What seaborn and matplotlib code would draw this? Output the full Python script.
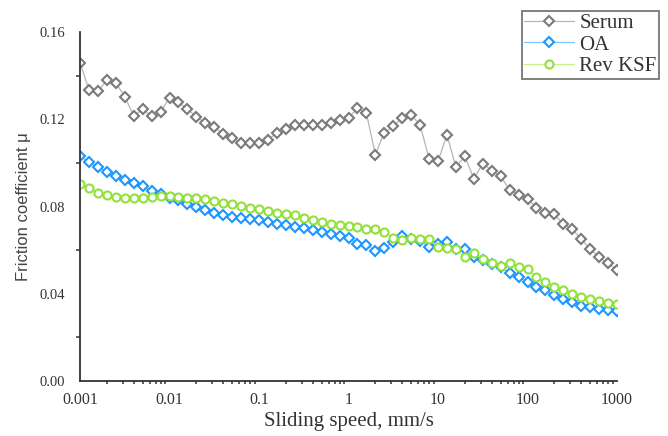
import numpy as np
import pandas as pd
import matplotlib
matplotlib.use("Agg")
import matplotlib.pyplot as plt
import seaborn as sns
from matplotlib.ticker import FixedLocator, NullFormatter, LogLocator

# ---- data ----
speed_exponents = [-3 + i / 10 for i in range(61)]  # 10 points per decade, 0.001 .. 1000
x_tick_values = [0.001, 0.01, 0.1, 1, 10, 100, 1000]
x_tick_labels = ["0.001", "0.01", "0.1", "1", "10", "100", "1000"]
y_tick_values = [0.00, 0.04, 0.08, 0.12, 0.16]
y_tick_labels = ["0.00", "0.04", "0.08", "0.12", "0.16"]

serum = [0.1460, 0.1335, 0.1328, 0.1379, 0.1367, 0.1304, 0.1214, 0.1247, 0.1214, 0.1234,
         0.1297, 0.1278, 0.1247, 0.1211, 0.1183, 0.1164, 0.1133, 0.1113, 0.1091, 0.1091,
         0.1091, 0.1107, 0.1136, 0.1156, 0.1175, 0.1175, 0.1175, 0.1175, 0.1184, 0.1195,
         0.1206, 0.1250, 0.1228, 0.1038, 0.1139, 0.1167, 0.1208, 0.1220, 0.1174, 0.1019,
         0.1007, 0.1129, 0.0981, 0.1030, 0.0928, 0.0997, 0.0965, 0.0939, 0.0876, 0.0855,
         0.0836, 0.0795, 0.0772, 0.0764, 0.0719, 0.0696, 0.0650, 0.0605, 0.0567, 0.0539,
         0.0509]
oa = [0.1030, 0.1004, 0.0982, 0.0959, 0.0942, 0.0923, 0.0907, 0.0892, 0.0873, 0.0856,
      0.0840, 0.0828, 0.0813, 0.0798, 0.0783, 0.0772, 0.0761, 0.0752, 0.0745, 0.0741,
      0.0737, 0.0731, 0.0722, 0.0716, 0.0707, 0.0701, 0.0692, 0.0685, 0.0676, 0.0666,
      0.0655, 0.0630, 0.0624, 0.0597, 0.0612, 0.0635, 0.0665, 0.0650, 0.0643, 0.0615,
      0.0628, 0.0635, 0.0605, 0.0605, 0.0567, 0.0555, 0.0536, 0.0524, 0.0494, 0.0476,
      0.0453, 0.0430, 0.0415, 0.0392, 0.0377, 0.0362, 0.0346, 0.0339, 0.0331, 0.0324,
      0.0321]
rev_ksf = [0.0901, 0.0886, 0.0863, 0.0852, 0.0843, 0.0840, 0.0840, 0.0840, 0.0843, 0.0846,
           0.0846, 0.0843, 0.0840, 0.0837, 0.0833, 0.0825, 0.0817, 0.0810, 0.0802, 0.0795,
           0.0787, 0.0780, 0.0772, 0.0764, 0.0760, 0.0749, 0.0737, 0.0731, 0.0722, 0.0716,
           0.0710, 0.0707, 0.0698, 0.0695, 0.0682, 0.0655, 0.0646, 0.0656, 0.0650, 0.0650,
           0.0613, 0.0610, 0.0607, 0.0567, 0.0588, 0.0560, 0.0540, 0.0529, 0.0539, 0.0524,
           0.0514, 0.0476, 0.0453, 0.0433, 0.0415, 0.0400, 0.0384, 0.0374, 0.0366, 0.0359,
           0.0351]

speed = [10 ** e for e in speed_exponents]

sns.set_style("white")
plt.rcParams["font.family"] = ["Liberation Serif", "DejaVu Serif"]

fig = plt.figure(figsize=(6.68, 4.36), dpi=100)
ax = fig.add_axes([80 / 668, 55 / 436, (617 - 80) / 668, (381 - 32) / 436])

series = [
    ("Serum", serum, "D", "#7a7a7a", "#b5b5b5", 5.2),
    ("OA", oa, "D", "#1e96ff", "#7cc4ff", 5.2),
    ("Rev KSF", rev_ksf, "o", "#92e03a", "#c4f08a", 5.8),
]
for name, vals, mk, edge, linec, ms in series:
    df = pd.DataFrame({"speed": speed, "mu": vals})
    sns.lineplot(data=df, x="speed", y="mu", ax=ax, estimator=None, sort=False,
                 color=linec, linewidth=0.9, marker=mk, markersize=ms,
                 markerfacecolor="white", markeredgecolor=edge, markeredgewidth=1.5,
                 label=name)

ax.set_xscale("log")
ax.set_xlim(0.001, 1000)
ax.set_ylim(0, 0.16)

ax.xaxis.set_major_locator(FixedLocator(x_tick_values))
ax.set_xticklabels(x_tick_labels)
ax.xaxis.set_minor_locator(LogLocator(base=10, subs=np.arange(2, 10)))
ax.xaxis.set_minor_formatter(NullFormatter())
ax.yaxis.set_major_locator(FixedLocator(y_tick_values))
ax.set_yticklabels(y_tick_labels)
ax.yaxis.set_minor_locator(FixedLocator([0.02, 0.06, 0.10, 0.14]))

for s in ["top", "right"]:
    ax.spines[s].set_visible(False)
for s in ["left", "bottom"]:
    ax.spines[s].set_color("#333333")
    ax.spines[s].set_linewidth(1.3)

ax.tick_params(axis="x", which="major", direction="out", length=5, width=1.1,
               color="#333333", labelsize=11.5, labelcolor="#333333", pad=3)
ax.tick_params(axis="x", which="minor", direction="out", length=2.2, width=1.1,
               color="#333333", bottom=True)
ax.tick_params(axis="y", which="major", direction="out", length=6.5, width=1.1,
               color="#333333", labelsize=10.5, labelcolor="#333333", pad=4)
ax.tick_params(axis="y", which="minor", direction="out", length=3, width=1.1,
               color="#333333", left=True)

ax.set_xlabel("Sliding speed, mm/s", fontsize=15, color="#333333", labelpad=3)
ax.set_ylabel("Friction coefficient \u03bc", fontsize=12, color="#444444",
              family=["Liberation Sans", "DejaVu Sans"], labelpad=6)

leg = ax.legend(loc="upper right", bbox_to_anchor=(659 / 668, (436 - 11) / 436),
                bbox_transform=fig.transFigure, fontsize=15, frameon=True,
                fancybox=False, handlelength=2.4, borderpad=0.12, labelspacing=0.1,
                handletextpad=0.25, borderaxespad=0)
leg.get_frame().set_edgecolor("#555555")
leg.get_frame().set_linewidth(1.3)
for t in leg.get_texts():
    t.set_color("#333333")

fig.savefig("out.png", dpi=100)
